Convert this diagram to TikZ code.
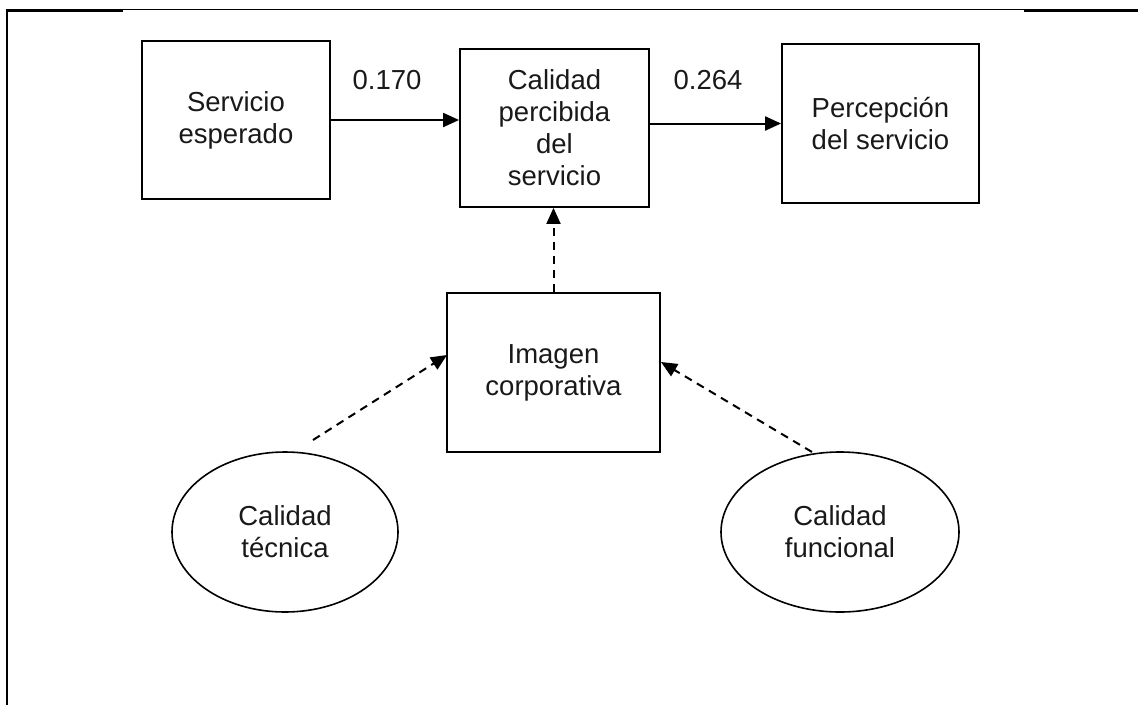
\documentclass[tikz,border=0pt]{standalone}
\usepackage{fontspec}
\setmainfont{Liberation Sans}
\usetikzlibrary{shapes.geometric,arrows.meta}
\begin{document}
\begin{tikzpicture}[x=1pt,y=-1pt,
  txt/.style={font=\fontsize{27.5}{32}\selectfont, text=black!90, align=center},
  boxnode/.style={txt, draw, line width=1.8pt, inner sep=0pt},
  ovalnode/.style={txt, draw, ellipse, line width=1.6pt, inner sep=0pt},
  solidarrow/.style={line width=2pt, -{Triangle[length=16pt,width=14pt]}},
  dasharrow/.style={line width=2pt, dash pattern=on 8pt off 6pt, -{Triangle[length=16pt,width=14pt]}},
  numlabel/.style={font=\fontsize{27.5}{32}\selectfont, text=black!90}]
\useasboundingbox (0,0) rectangle (1138,705);
% frame
\draw[line width=3pt] (6,10.5) -- (123,10.5);
\draw[line width=1.3pt] (123,9.5) -- (1024,9.5);
\draw[line width=3pt] (1024,10.5) -- (1138,10.5);
\draw[line width=2.8pt] (7,9) -- (7,705);
% nodes
\node[boxnode, minimum width=188pt, minimum height=158pt] (b1) at (236,120) {Servicio\\esperado};
\node[boxnode, minimum width=189pt, minimum height=158pt] (b2) at (554.5,128) {Calidad\\percibida\\del\\servicio};
\node[boxnode, minimum width=197pt, minimum height=159pt] (b3) at (880.5,123.5) {Percepción\\del servicio};
\node[boxnode, minimum width=213pt, minimum height=159pt] (b4) at (553.5,372.5) {Imagen\\corporativa};
\node[ovalnode, minimum width=226pt, minimum height=160pt] (e1) at (285,532) {Calidad\\técnica};
\node[ovalnode, minimum width=238pt, minimum height=160pt] (e2) at (840,532) {Calidad\\funcional};
\node[numlabel] (l1) at (387,80) {0.170};
\node[numlabel] (l2) at (708,80) {0.264};
% connectors
\draw[solidarrow] (b1.east) -- (b1.east -| b2.west);
\draw[solidarrow] (b3.west -| b2.east) -- (b3.west);
\draw[dasharrow] (b4.north) -- (b4.north |- b2.south);
\coordinate (s1) at (313,440);
\coordinate (t1) at (447,355);
\coordinate (s2) at (812,452);
\coordinate (t2) at (661,362);
\draw[dasharrow] (s1) -- (t1);
\draw[dasharrow] (s2) -- (t2);
\end{tikzpicture}
\end{document}
